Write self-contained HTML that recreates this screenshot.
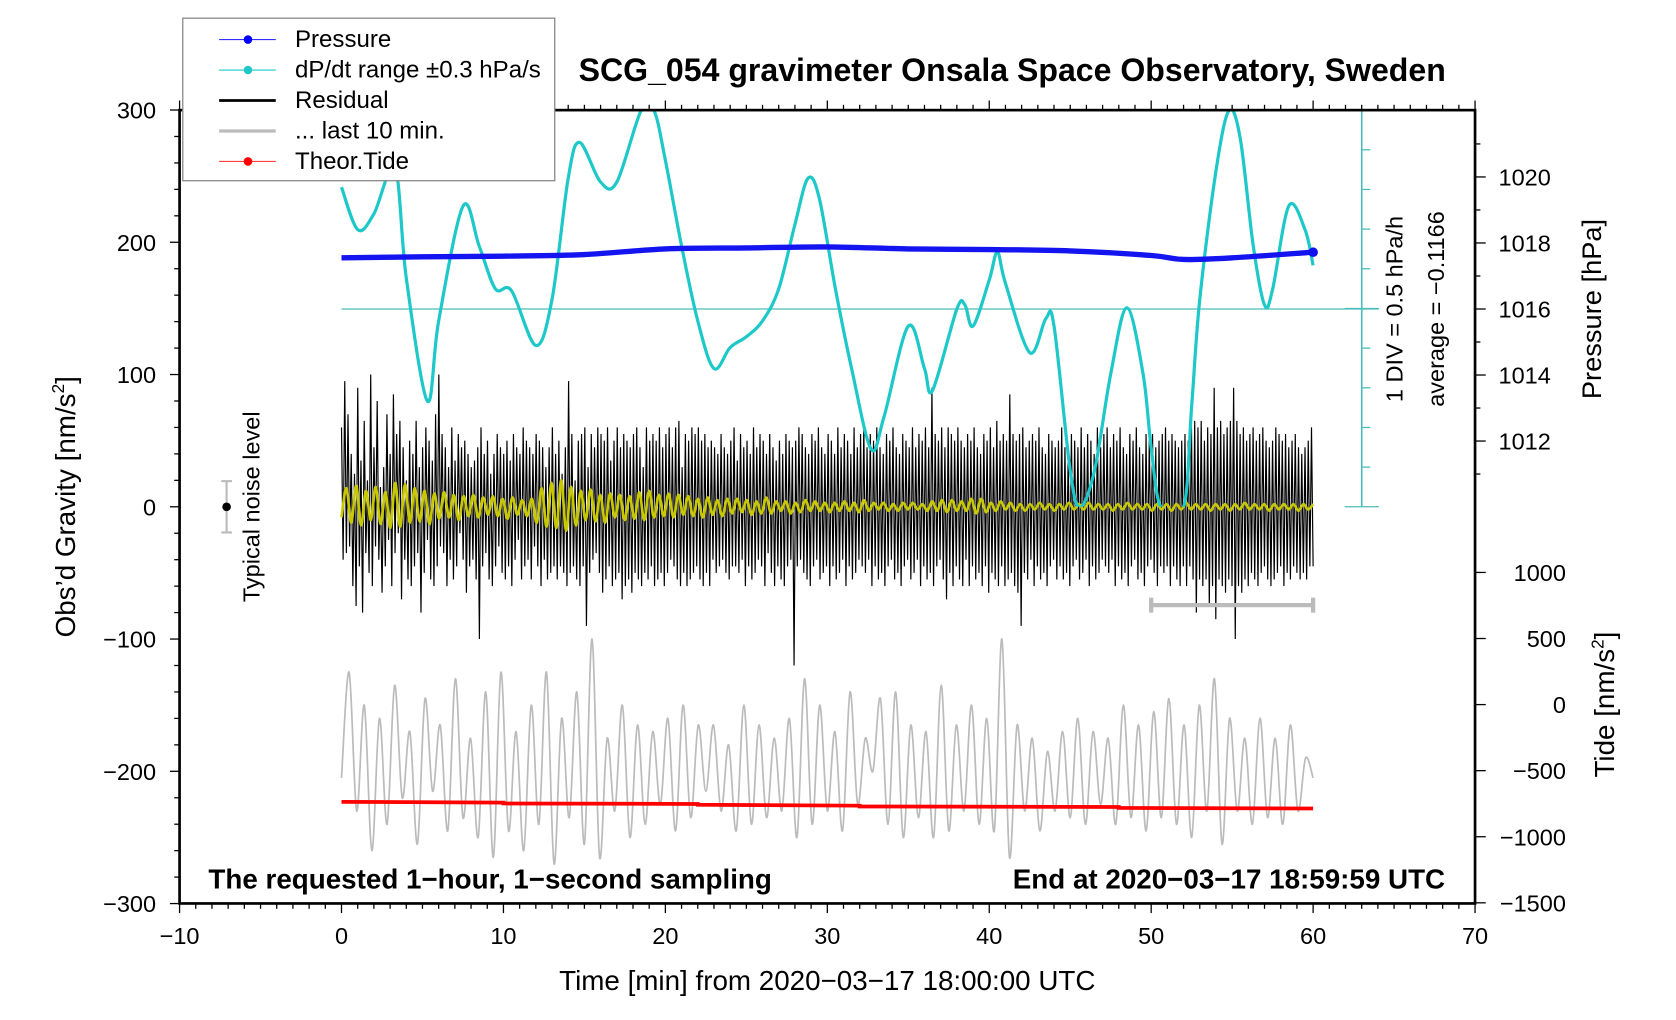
<!DOCTYPE html>
<html><head><meta charset="utf-8"><style>
html,body{margin:0;padding:0;background:#fff;}
svg{display:block;}
text{font-family:"Liberation Sans Narrow","Liberation Sans",sans-serif;fill:#000;}
.n{font-family:"Liberation Sans",sans-serif;}
</style></head><body>
<svg id="chart" width="1676" height="1020" viewBox="0 0 1568 954" preserveAspectRatio="none" xmlns="http://www.w3.org/2000/svg">
<defs><clipPath id="cclip"><rect x="300" y="103" width="1000" height="371"/></clipPath></defs>
<g id="marks"></g>
<g id="axes"></g>
</svg>
<script>
// ---- data ----
const xTicks=[-10,0,10,20,30,40,50,60,70];
const yTicks=[300,200,100,0,-100,-200,-300];
const pTicks=[1020,1018,1016,1014,1012];
const tideTicks=[1000,500,0,-500,-1000,-1500];
const cyanT=[0,1,2,3.3,4,5.3,6,7.5,8.5,9.5,10.5,12,13,14,14.7,16,17,18.5,19.3,20,21,22,23,24,25,26,27,28,28.8,29.5,30.5,31.5,32.7,33.5,35,36,36.5,38,38.5,39,40,40.5,41,42.5,43.5,44,45,45.6,46.5,47.5,48.5,49.5,50,50.6,52,52.5,53,54,54.8,55.5,56.3,57,57.5,58.5,59.5,60];
const cyanDiv=[3.07,2.0,2.4,3.55,0.78,-2.32,-0.3,2.59,1.59,0.51,0.46,-0.92,0.24,3.3,4.2,3.2,3.2,5,5,3.75,1.59,-0.3,-1.5,-0.97,-0.7,-0.3,0.51,2.13,3.29,2.8,0.51,-1.5,-3.53,-2.72,-0.43,-1.5,-2.05,0,0.1,-0.43,0.73,1.43,0.65,-1.1,-0.24,-0.43,-4.07,-5,-4.07,-1.64,0.03,-1.64,-3.5,-5,-5,-2.45,0.24,3.48,5,4.3,1.6,0.1,0.5,2.6,2.0,1.1];
const presT=[0,5,10,15,20,25,30,35,40,45,50,52,55,60];
const presHPa=[1017.55,1017.58,1017.6,1017.65,1017.82,1017.85,1017.88,1017.82,1017.8,1017.76,1017.62,1017.5,1017.55,1017.72];
const tideT=[0,10,10,22,22,32,32,48,48,60];
const tideVal=[-736,-742,-748,-752,-758,-765,-771,-775,-782,-786];
const resid=[
60,-40,95,-35,70,-30,40,-60,25,-75,90,-45,35,-80,65,-35,20,-50,100,-60,45,-30,80,-40,15,-65,30,-45,70,-25,40,-60,85,-35,55,-20,65,-70,45,-40,
20,-55,50,-60,40,-45,65,-35,30,-80,45,-50,60,-25,50,-55,35,-60,70,-45,100,-30,55,-35,45,-60,30,-40,60,-55,35,-45,55,-20,45,-40,50,-65,40,-45,
30,-40,35,-55,45,-100,60,-45,40,-35,50,-55,25,-60,40,-45,55,-30,45,-50,40,-55,50,-45,35,-60,55,-40,45,-25,40,-55,60,-45,50,-40,45,-55,40,-30,
55,-45,50,-60,45,-40,30,-55,45,-50,60,-45,40,-55,50,-45,25,-50,45,-60,95,-50,55,-45,20,-55,50,-60,55,-45,60,-90,30,-50,55,-40,45,-35,60,-50,
55,-65,50,-55,60,-45,35,-60,50,-55,60,-50,45,-70,55,-60,50,-55,45,-65,55,-50,60,-55,45,-60,30,-50,60,-55,50,-45,55,-60,50,-55,60,-50,45,-60,
55,-50,60,-40,45,-45,60,-55,65,-60,30,-50,55,-60,50,-55,60,-50,55,-45,60,-55,50,-60,55,-50,45,-60,50,-40,45,-50,40,-45,55,-40,45,-50,40,-55,
50,-45,60,-45,35,-50,55,-40,45,-60,50,-45,40,-55,60,-50,45,-40,55,-45,50,-60,40,-35,55,-50,45,-60,35,-45,50,-55,40,-60,55,-45,50,-40,45,-120,
50,-45,60,-40,55,-50,45,-55,40,-60,55,-45,50,-40,60,-55,45,-50,40,-45,55,-60,50,-45,40,-55,60,-50,45,-40,55,-60,50,-45,40,-55,60,-50,45,-40,
55,-45,60,-50,45,-40,55,-60,50,-45,60,-55,45,-50,40,-60,55,-45,50,-40,60,-55,45,-50,40,-60,55,-45,50,-40,45,-55,60,-50,45,-40,55,-60,50,-45,
60,-55,45,-50,90,-60,55,-45,50,-40,60,-55,45,-70,60,-50,55,-60,50,-45,60,-55,50,-60,45,-40,55,-60,50,-45,60,-55,45,-50,40,-60,55,-45,50,-65,
60,-50,45,-55,65,-60,50,-45,55,-60,50,-55,85,-50,55,-60,50,-65,55,-90,60,-50,45,-55,50,-40,55,-60,50,-45,60,-55,45,-50,40,-60,55,-45,50,-40,
45,-55,50,-45,60,-55,45,-50,40,-60,55,-45,50,-40,45,-55,60,-50,45,-40,55,-60,50,-45,40,-55,60,-50,45,-40,55,-45,60,-50,45,-40,55,-60,50,-45,
60,-55,45,-50,40,-60,55,-45,50,-40,60,-55,45,-50,40,-60,55,-45,50,-40,55,-50,45,-60,50,-45,55,-50,60,-45,50,-60,55,-45,50,-55,45,-60,50,-45,
55,-60,50,-45,60,-55,65,-80,60,-55,65,-60,50,-55,60,-75,55,-60,90,-85,60,-55,65,-60,55,-65,60,-55,65,-60,90,-100,65,-60,55,-65,60,-55,50,-60,
55,-50,60,-55,50,-60,55,-50,60,-45,50,-55,45,-60,50,-55,60,-50,55,-45,50,-60,55,-50,45,-55,50,-45,55,-50,45,-55,40,-50,45,-55,50,-45,60,-45];
const yellow=[-8,14,-12,16,-14,12,-10,15,-13,11,-16,18,-15,17,-12,14,-11,12,-13,10,-9,11,-8,9,-10,8,-7,9,-8,7,-6,8,-7,6,-9,7,-6,5,-7,6,
-12,14,-15,18,-16,20,-18,15,-14,12,-10,13,-11,9,-12,10,-8,9,-10,8,-9,11,-10,12,-8,9,-7,10,-8,9,-6,8,-7,6,-8,7,-6,5,-7,6,
-5,6,-4,5,-6,4,-5,7,-5,4,-3,4,-5,3,-4,5,-3,4,-3,3,-4,3,-3,4,-3,3,-4,5,-3,3,-2,3,-3,2,-3,3,-2,3,-2,2,
-3,4,-3,5,-4,5,-3,4,-3,6,-5,6,-4,3,-3,4,-2,3,-3,2,-3,2,-2,3,-2,2,-3,2,-2,3,-2,2,-2,3,-2,2,-2,2,-3,2,
-2,3,-2,2,-2,2,-3,2,-2,2,-3,2,-2,3,-2,2,-2,2,-3,2,-2,2,-3,2,-2,3,-2,2,-2,2,-3,2,-2,2,-2,2,-3,2,-2,2];
const gray=[-205,-125,-230,-150,-260,-160,-240,-135,-220,-170,-255,-145,-215,-165,-245,-130,-235,-175,-250,-140,-265,-125,-245,-170,-260,-150,-240,-125,-270,-160,-235,-140,-255,-100,-265,-175,-230,-150,-250,-165,-240,-170,-225,-160,-245,-150,-235,-165,-215,-165,-230,-180,-245,-150,-240,-165,-235,-175,-230,-160,-250,-130,-240,-150,-230,-170,-245,-140,-225,-175,-200,-145,-240,-140,-250,-165,-235,-170,-250,-135,-245,-165,-230,-150,-240,-160,-245,-100,-265,-165,-230,-175,-245,-185,-230,-170,-235,-160,-240,-170,-225,-175,-240,-150,-235,-165,-245,-155,-235,-145,-240,-165,-250,-150,-230,-130,-255,-160,-230,-175,-240,-160,-235,-175,-240,-165,-230,-190,-205];
// ---- scales (viewBox units) ----
const X=t=>168+(t+10)*15.15;
const Y=g=>474-g*1.237;
const YP=p=>289-(p-1016)*30.875;
const YT=v=>659-v*0.1236;
const YC=d=>289-d*37.1;
const NS="http://www.w3.org/2000/svg";
const marks=document.getElementById('marks'), axes=document.getElementById('axes');
function el(tag,attrs,parent,txt){const e=document.createElementNS(NS,tag);for(const k in attrs)e.setAttribute(k,attrs[k]);if(txt!==undefined)e.textContent=txt;parent.appendChild(e);return e;}
function pts(xs,ys){return xs.map((x,i)=>x+','+ys[i]).join(' ');}
function smooth(xs,ys){let d='M'+xs[0]+','+ys[0];for(let i=0;i<xs.length-1;i++){const x0=xs[Math.max(0,i-1)],y0=ys[Math.max(0,i-1)],x1=xs[i],y1=ys[i],x2=xs[i+1],y2=ys[i+1],x3=xs[Math.min(xs.length-1,i+2)],y3=ys[Math.min(xs.length-1,i+2)];
d+=' C'+(x1+(x2-x0)/6)+','+(y1+(y2-y0)/6)+' '+(x2-(x3-x1)/6)+','+(y2-(y3-y1)/6)+' '+x2+','+y2;}return d;}
let e;
e=el('line',{x1:X(0),x2:1290,y1:289,y2:289,stroke:'#4bbcbc','stroke-width':1.2},marks);

e=el('line',{x1:1274,x2:1274,y1:103,y2:474,stroke:'#4bbcbc','stroke-width':1.5},marks);

for(let i=0;i<=10;i++){const yy=103+i*37.1;const big=(i==0||i==10||i==5);el('line',{x1:1274-(big?16:0),x2:1274+(big?16:8),y1:yy,y2:yy,stroke:'#4bbcbc','stroke-width':1.2},marks);}
const dtR=60/(resid.length-1);
e=el('polyline',{points:pts(resid.map((v,i)=>X(i*dtR)),resid.map(Y)),fill:'none',stroke:'#000','stroke-width':1.1},marks);

const dtY=60/(yellow.length-1);
e=el('path',{d:smooth(yellow.map((v,i)=>X(i*dtY)),yellow.map(Y)),fill:'none',stroke:'#c8c800','stroke-width':2.5},marks);

e=el('path',{d:smooth(cyanT.map(X),cyanDiv.map(d=>YC(Math.max(-5,Math.min(5,d))))),fill:'none',stroke:'#1ec8c8','stroke-width':3,'stroke-linejoin':'round','clip-path':'url(#cclip)'},marks);

e=el('path',{d:smooth(presT.map(X),presHPa.map(YP)),fill:'none',stroke:'#1414f0','stroke-width':5},marks);

el('circle',{cx:X(60),cy:YP(presHPa[presHPa.length-1]),r:4.5,fill:'#1010ee'},marks);
const dtG=60/(gray.length-1);
e=el('path',{d:smooth(gray.map((v,i)=>X(i*dtG)),gray.map(Y)),fill:'none',stroke:'#bbbbbb','stroke-width':1.6},marks);

e=el('polyline',{points:pts(tideT.map(X),tideVal.map(YT)),fill:'none',stroke:'#ff0000','stroke-width':3.5},marks);

e=el('g',{stroke:'#bbb','stroke-width':4},marks);

el('line',{x1:X(50),x2:X(60),y1:566,y2:566},e);el('line',{x1:X(50),x2:X(50),y1:559,y2:573},e);el('line',{x1:X(60),x2:X(60),y1:559,y2:573},e);
e=el('g',{},marks);

el('line',{x1:212,x2:212,y1:450,y2:498,stroke:'#bbb','stroke-width':2},e);
el('line',{x1:207,x2:217,y1:450,y2:450,stroke:'#bbb','stroke-width':2},e);
el('line',{x1:207,x2:217,y1:498,y2:498,stroke:'#bbb','stroke-width':2},e);
el('circle',{cx:212,cy:474,r:4,fill:'#000'},e);
e=el('rect',{x:168,y:103,width:1212,height:742,fill:'none',stroke:'#000','stroke-width':2.5},axes);

for(let t=-10;t<=70;t++){const maj=t%10==0;const x=X(t);
 el('line',{x1:x,x2:x,y1:845,y2:845+(maj?9:5),stroke:'#000','stroke-width':1.2},axes);
 el('line',{x1:x,x2:x,y1:103,y2:103-(maj?9:5),stroke:'#000','stroke-width':1.2},axes);}
xTicks.forEach(t=>{const tx=el('text',{x:X(t),y:883,'text-anchor':'middle','font-size':22},axes,String(t).replace('-','\u2212'));
 });
for(let g=-300;g<=300;g+=20){const maj=g%100==0;el('line',{x1:168,x2:168-(maj?9:5),y1:Y(g),y2:Y(g),stroke:'#000','stroke-width':1.2},axes);}
yTicks.forEach(g=>{const tx=el('text',{x:146,y:Y(g)+8,'text-anchor':'end','font-size':22},axes,String(g).replace('-','\u2212'));
 });
for(let p=1011;p<=1021;p++){const maj=p%2==0;el('line',{x1:1380,x2:1380+(maj?10:5),y1:YP(p),y2:YP(p),stroke:'#000','stroke-width':1.2},axes);}
pTicks.forEach(p=>{const tx=el('text',{x:1402,y:YP(p)+8,'font-size':22},axes,String(p));
 });
tideTicks.forEach(v=>{el('line',{x1:1380,x2:1390,y1:YT(v),y2:YT(v),stroke:'#000','stroke-width':1.2},axes);
 const tx=el('text',{x:1465,y:YT(v)+8,'text-anchor':'end','font-size':22},axes,String(v).replace('-','\u2212'));
 });
</script>
<script>
(function(){
const NS="http://www.w3.org/2000/svg";const axes=document.getElementById('axes');
function t(name,attrs,txt,cls){const e=document.createElementNS(NS,'text');for(const k in attrs)e.setAttribute(k,attrs[k]);if(cls)e.setAttribute('class',cls);e.textContent=txt;


axes.appendChild(e);return e;}
t('chart-title',{x:947,y:76,'text-anchor':'middle','font-size':30,'font-weight':'bold'},'SCG_054 gravimeter Onsala Space Observatory, Sweden');
t('x-axis-title',{x:774,y:926,'text-anchor':'middle','font-size':26},'Time [min] from 2020\u221203\u221217 18:00:00 UTC');
t('sampling-note',{x:195,y:831,'font-size':26,'font-weight':'bold'},'The requested 1\u2212hour, 1\u2212second sampling');
t('end-time-note',{x:1352,y:831,'text-anchor':'end','font-size':26,'font-weight':'bold'},'End at 2020\u221203\u221217 18:59:59 UTC');
const yt=t('y-axis-title',{transform:'translate(70,474) rotate(-90)','text-anchor':'middle','font-size':26},'Obs\u2019d Gravity [nm/s','n');
const s=document.createElementNS(NS,'tspan');s.setAttribute('dy','-10');s.setAttribute('font-size','16');s.textContent='2';yt.appendChild(s);
const s2=document.createElementNS(NS,'tspan');s2.setAttribute('dy','10');s2.textContent=']';yt.appendChild(s2);
t('noise-level-label',{transform:'translate(243,474) rotate(-90)','text-anchor':'middle','font-size':22},'Typical noise level','n');
t('pressure-axis-title',{transform:'translate(1498,289) rotate(-90)','text-anchor':'middle','font-size':25.5},'Pressure [hPa]','n');
const tt=t('tide-axis-title',{transform:'translate(1510,659) rotate(-90)','text-anchor':'middle','font-size':26},'Tide [nm/s','n');
const s3=document.createElementNS(NS,'tspan');s3.setAttribute('dy','-10');s3.setAttribute('font-size','16');s3.textContent='2';tt.appendChild(s3);
const s4=document.createElementNS(NS,'tspan');s4.setAttribute('dy','10');s4.textContent=']';tt.appendChild(s4);
t('dpdt-scale-label',{transform:'translate(1312,289) rotate(-90)','text-anchor':'middle','font-size':22},'1 DIV = 0.5 hPa/h','n');
t('dpdt-average-label',{transform:'translate(1351,289) rotate(-90)','text-anchor':'middle','font-size':22},'average = \u22120.1166','n');
const lg=document.createElementNS(NS,'g');


axes.appendChild(lg);
const box=document.createElementNS(NS,'rect');
box.setAttribute('x',171);box.setAttribute('y',17);box.setAttribute('width',348);box.setAttribute('height',152);box.setAttribute('fill','#fff');box.setAttribute('stroke','#888');box.setAttribute('stroke-width',1.2);
lg.appendChild(box);
const items=[['Pressure','#3030ff',1,'#0000ff'],['dP/dt range \u00b10.3 hPa/s','#1ec8c8',1,'#1ec8c8'],['Residual','#000',2.5,null],['... last 10 min.','#bbb',3,null],['Theor.Tide','#ff4040',1,'#ff0000']];
items.forEach((it,i)=>{const y=37+i*28.5;
 const g=document.createElementNS(NS,'g');
 
 
 lg.appendChild(g);
 const l=document.createElementNS(NS,'line');l.setAttribute('x1',205);l.setAttribute('x2',258);l.setAttribute('y1',y);l.setAttribute('y2',y);l.setAttribute('stroke',it[1]);l.setAttribute('stroke-width',it[2]);g.appendChild(l);
 if(it[3]){const c=document.createElementNS(NS,'circle');c.setAttribute('cx',232);c.setAttribute('cy',y);c.setAttribute('r',4);c.setAttribute('fill',it[3]);g.appendChild(c);}
 const tx=document.createElementNS(NS,'text');tx.setAttribute('x',276);tx.setAttribute('y',y+7);tx.setAttribute('font-size',22.5);tx.textContent=it[0];g.appendChild(tx);});
})();
</script>
</body></html>
